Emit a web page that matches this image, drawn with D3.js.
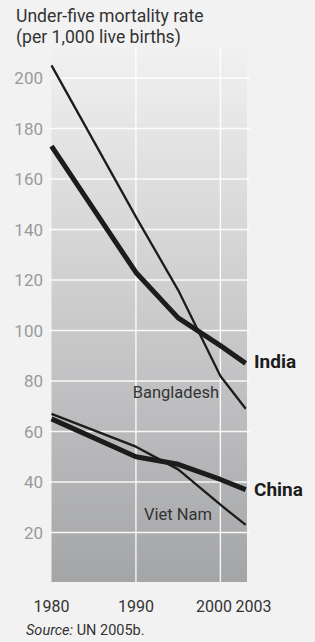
<!DOCTYPE html>
<html>
<head>
  <meta charset="utf-8">
  <title>Under-five mortality rate</title>
  <script src="https://cdn.jsdelivr.net/npm/d3@7"></script>
  <style>
    body { margin: 0; background: #f2f2f2; }
    svg { display: block; font-family: "Liberation Sans Narrow", "Roboto", sans-serif; }
  </style>
</head>
<body>
  <script>
    // size of the page
    const w = 315;
    const h = 642;

    // data
    const years = [1980, 1990, 1995, 2000, 2003];
    const bangladesh = [205, 145, 116, 82, 69];
    const india = [173, 123, 105, 94, 87];
    const vietNam = [67, 54, 45, 31, 23];
    const china = [65, 50, 47, 41, 37];
    const yTicks = [20, 40, 60, 80, 100, 120, 140, 160, 180, 200];
    const xTicks = [1980, 1990, 2000, 2003];

    const series = [
      { name: "Bangladesh", values: bangladesh, width: 2.3 },
      { name: "Viet Nam", values: vietNam, width: 2.3 },
      { name: "India", values: india, width: 5 },
      { name: "China", values: china, width: 5 }
    ];

    // scales
    const xScale = d3.scaleLinear().domain([1980, 2003]).range([51.5, 245.7]);
    const yScale = d3.scaleLinear().domain([0, 200]).range([583, 78]);

    const svg = d3.select("body").append("svg")
      .attr("width", w)
      .attr("height", h);

    svg.append("rect").attr("width", w).attr("height", h).attr("fill", "#f2f2f2");

    // gradient for plot area
    const grad = svg.append("defs").append("linearGradient")
      .attr("id", "bg").attr("x1", 0).attr("y1", 0).attr("x2", 0).attr("y2", 1);
    grad.append("stop").attr("offset", 0).attr("stop-color", "#f1f1f1");
    grad.append("stop").attr("offset", 1).attr("stop-color", "#a4a5a7");

    const pTop = 47, pBottom = 582, pLeft = 51.5, pRight = 247;
    svg.append("rect")
      .attr("x", pLeft).attr("y", pTop)
      .attr("width", pRight - pLeft).attr("height", pBottom - pTop)
      .attr("fill", "url(#bg)");

    // horizontal grid
    svg.append("g").selectAll("line")
      .data(yTicks)
      .enter().append("line")
      .attr("x1", pLeft - 2).attr("x2", pRight + 3)
      .attr("y1", d => yScale(d)).attr("y2", d => yScale(d))
      .attr("stroke", "#ffffff").attr("stroke-width", 1.4)
      .attr("stroke-opacity", 0.9);

    // vertical grid
    svg.append("g").selectAll("line")
      .data([1990, 2000])
      .enter().append("line")
      .attr("x1", d => xScale(d)).attr("x2", d => xScale(d))
      .attr("y1", pTop).attr("y2", pBottom)
      .attr("stroke", "#ffffff").attr("stroke-width", 1.4)
      .attr("stroke-opacity", 0.9);

    // y tick labels
    svg.append("g").selectAll("text")
      .data(yTicks)
      .enter().append("text")
      .attr("x", 43)
      .attr("y", d => yScale(d) + 6)
      .attr("text-anchor", "end")
      .attr("fill", "#9a9a9a")
      .attr("font-size", 17)
      .text(d => d);

    // x tick labels (2000 and 2003 pushed apart)
    const xShift = { 1980: 0, 1990: 0, 2000: -6.3, 2003: 7.8 };
    svg.append("g").selectAll("text")
      .data(xTicks)
      .enter().append("text")
      .attr("x", d => xScale(d) + xShift[d])
      .attr("y", 612)
      .attr("text-anchor", "middle")
      .attr("fill", "#333")
      .attr("font-size", 16)
      .text(d => d);

    // lines
    const line = d3.line()
      .x((d, i) => xScale(years[i]))
      .y(d => yScale(d));

    svg.append("g").selectAll("path")
      .data(series)
      .enter().append("path")
      .attr("d", d => line(d.values))
      .attr("fill", "none")
      .attr("stroke", "#1c1c1c")
      .attr("stroke-width", d => d.width)
      .attr("stroke-linejoin", "round");

    // series labels
    svg.append("text").attr("x", 254).attr("y", 368)
      .attr("font-size", 19).attr("font-weight", "bold").attr("fill", "#1c1c1c")
      .text("India");
    svg.append("text").attr("x", 254).attr("y", 496)
      .attr("font-size", 19).attr("font-weight", "bold").attr("fill", "#1c1c1c")
      .text("China");
    svg.append("text").attr("x", 219).attr("y", 398)
      .attr("text-anchor", "end")
      .attr("font-size", 16.5).attr("fill", "#333")
      .text("Bangladesh");
    svg.append("text").attr("x", 212).attr("y", 520)
      .attr("text-anchor", "end")
      .attr("font-size", 16.5).attr("fill", "#333")
      .text("Viet Nam");

    // title
    svg.append("text").attr("x", 16).attr("y", 22)
      .attr("font-size", 17.6).attr("fill", "#333")
      .text("Under-five mortality rate");
    svg.append("text").attr("x", 16).attr("y", 43)
      .attr("font-size", 17.6).attr("fill", "#333")
      .text("(per 1,000 live births)");

    // source
    const src = svg.append("text").attr("x", 26).attr("y", 635)
      .attr("font-size", 14.5).attr("fill", "#333");
    src.append("tspan").attr("font-style", "italic").text("Source:");
    src.append("tspan").text(" UN 2005b.");
  </script>
</body>
</html>
